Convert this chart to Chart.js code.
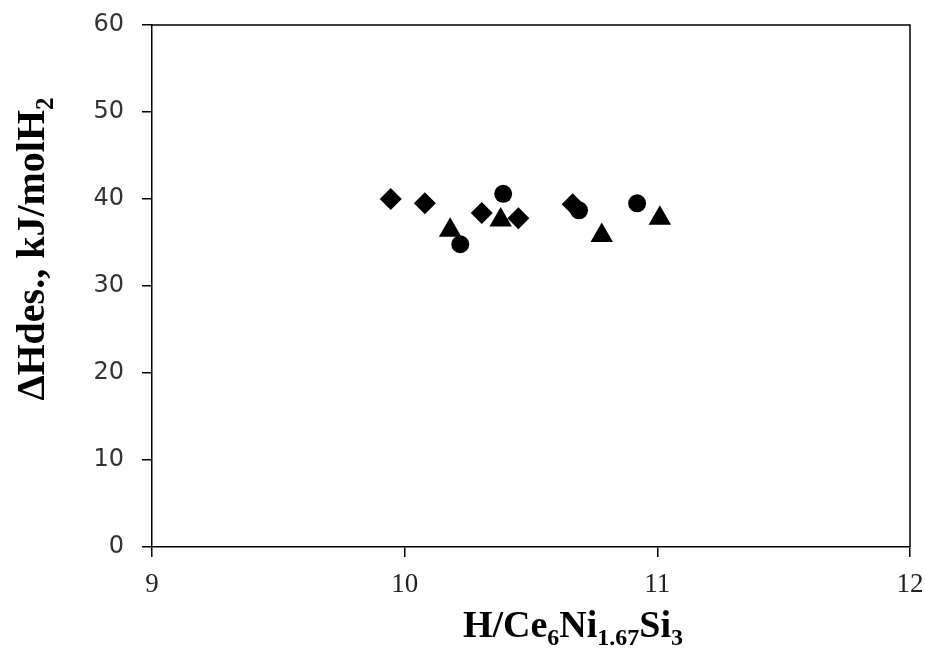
<!DOCTYPE html>
<html>
<head>
<meta charset="utf-8">
<script src="https://cdn.jsdelivr.net/npm/chart.js@4/dist/chart.umd.min.js"></script>
<style>
  html, body { margin: 0; padding: 0; background: #fff; }
  canvas { display: block; }
</style>
</head>
<body>
<canvas id="chart" width="925" height="652"></canvas>
<script>
// values
const diamondX = [9.945, 10.08, 10.305, 10.45, 10.665];
const diamondY = [40.0, 39.5, 38.4, 37.8, 39.4];
const circleX = [10.22, 10.39, 10.69, 10.92];
const circleY = [34.8, 40.6, 38.7, 39.5];
const triangleX = [10.18, 10.38, 10.78, 11.01];
const triangleY = [36.4, 37.6, 35.8, 37.8];

const xTicks = [9, 10, 11, 12];
const yTicks = [0, 10, 20, 30, 40, 50, 60];

// axis titles, as [text, isSubscript] pieces
const xTitle = [['H/Ce', false], ['6', true], ['Ni', false], ['1.67', true], ['Si', false], ['3', true]];
const yTitle = [['\u0394Hdes., kJ/molH', false], ['2', true]];

const SERIF = '"Liberation Serif", "Times New Roman", serif';
const SANS = '"DejaVu Sans", Verdana, sans-serif';

function toPoints(xs, ys) {
  return xs.map((x, i) => ({ x: x, y: ys[i] }));
}

function drawRich(ctx, parts, size) {
  const big = 'bold ' + size + 'px ' + SERIF;
  const small = 'bold ' + Math.round(size * 0.62) + 'px ' + SERIF;
  let total = 0;
  parts.forEach(p => { ctx.font = p[1] ? small : big; total += ctx.measureText(p[0]).width; });
  let x = -total / 2;
  ctx.textAlign = 'left';
  ctx.textBaseline = 'alphabetic';
  parts.forEach(p => {
    ctx.font = p[1] ? small : big;
    ctx.fillText(p[0], x, p[1] ? size * 0.22 : 0);
    x += ctx.measureText(p[0]).width;
  });
}

const framePlugin = {
  id: 'frame',
  afterDraw(chart) {
    const ctx = chart.ctx;
    const a = chart.chartArea;
    ctx.save();
    ctx.strokeStyle = '#000';
    ctx.lineWidth = 1.5;
    ctx.beginPath();
    ctx.moveTo(a.left, a.top);
    ctx.lineTo(a.right, a.top);
    ctx.lineTo(a.right, a.bottom);
    ctx.stroke();

    ctx.fillStyle = '#000';
    // x title
    ctx.save();
    ctx.translate(573, 637);
    drawRich(ctx, xTitle, 38);
    ctx.restore();
    // y title
    ctx.save();
    ctx.translate(44, 249);
    ctx.rotate(-Math.PI / 2);
    drawRich(ctx, yTitle, 40);
    ctx.restore();
    ctx.restore();
  }
};

new Chart(document.getElementById('chart'), {
  type: 'scatter',
  data: {
    datasets: [
      {
        label: 'diamond',
        data: toPoints(diamondX, diamondY),
        pointStyle: 'rectRot',
        pointRadius: 11,
        backgroundColor: '#000',
        borderColor: '#000',
        borderWidth: 0
      },
      {
        label: 'circle',
        data: toPoints(circleX, circleY),
        pointStyle: 'circle',
        pointRadius: 9,
        backgroundColor: '#000',
        borderColor: '#000',
        borderWidth: 0
      },
      {
        label: 'triangle',
        data: toPoints(triangleX, triangleY),
        pointStyle: 'triangle',
        pointRadius: 13,
        backgroundColor: '#000',
        borderColor: '#000',
        borderWidth: 0
      }
    ]
  },
  options: {
    responsive: false,
    animation: false,
    events: [],
    layout: { padding: { top: 25, right: 15, left: 0, bottom: 0 } },
    plugins: {
      legend: { display: false },
      tooltip: { enabled: false }
    },
    scales: {
      x: {
        type: 'linear',
        min: 9,
        max: 12,
        afterFit(scale) {
          scale.height = 105;
          scale.paddingLeft = 0;
          scale.paddingRight = 0;
        },
        afterBuildTicks(scale) { scale.ticks = xTicks.map(v => ({ value: v })); },
        border: { display: true, color: '#000', width: 1.5 },
        grid: { drawOnChartArea: false, drawTicks: true, tickLength: 10, color: '#000', lineWidth: 1.5 },
        ticks: {
          color: '#222',
          padding: 12,
          font: { family: SERIF, size: 27 }
        }
      },
      y: {
        type: 'linear',
        min: 0,
        max: 60,
        afterFit(scale) {
          scale.width = 152;
          scale.paddingTop = 0;
          scale.paddingBottom = 0;
        },
        afterBuildTicks(scale) { scale.ticks = yTicks.map(v => ({ value: v })); },
        border: { display: true, color: '#000', width: 1.5 },
        grid: { drawOnChartArea: false, drawTicks: true, tickLength: 10, color: '#000', lineWidth: 1.5 },
        ticks: {
          color: '#333',
          padding: 18,
          font: { family: SANS, size: 24 }
        }
      }
    }
  },
  plugins: [framePlugin]
});
</script>
</body>
</html>
